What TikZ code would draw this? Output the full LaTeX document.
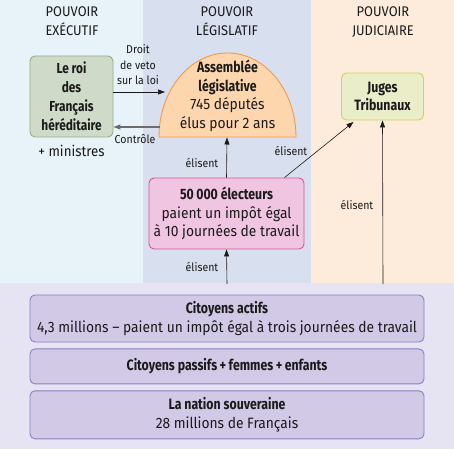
\documentclass[tikz,border=0pt]{standalone}
\usepackage{fontspec}
\setmainfont{Fira Sans}[FakeStretch=0.92]
\newfontfamily\hdfont{Fira Sans}[FakeStretch=0.82]
\usepackage{tikz}
\usetikzlibrary{arrows.meta, positioning}
\definecolor{execbg}{HTML}{E7F3F8}
\definecolor{legisbg}{HTML}{D8DFEE}
\definecolor{judibg}{HTML}{FDEBDB}
\definecolor{nationbg}{HTML}{E6E4F2}
\definecolor{roifill}{HTML}{CFDAC9}
\definecolor{roidraw}{HTML}{8FB087}
\definecolor{domefill}{HTML}{FDD6AE}
\definecolor{domedraw}{HTML}{F29A48}
\definecolor{jugefill}{HTML}{E9EEC8}
\definecolor{jugedraw}{HTML}{C9D652}
\definecolor{electfill}{HTML}{EFC5E1}
\definecolor{electdraw}{HTML}{D4569A}
\definecolor{citfill}{HTML}{D1C9E6}
\definecolor{citdraw}{HTML}{8A7FC2}
\definecolor{ink}{HTML}{1A1A1A}
\newcommand{\hd}[1]{{\hdfont\bfseries #1}}

\begin{document}
\begin{tikzpicture}[x=1pt, y=1pt,
  panel/.style={rectangle, rounded corners=5pt, draw, line width=0.9pt, align=center, inner sep=0pt, text=ink, font=\fontsize{15}{18.5}\selectfont},
  title/.style={align=center, text=ink, font=\fontsize{14}{19}\selectfont},
  lbl/.style={align=center, text=ink, font=\fontsize{11.5}{16}\selectfont},
  link/.style={-{Triangle[length=7pt,width=5pt]}, line width=0.6pt, draw=ink}
]
  \useasboundingbox (0,0) rectangle (454,-449);
  \fill[execbg] (0,0) rectangle (143,-283);
  \fill[legisbg] (143,0) rectangle (311,-283);
  \fill[judibg] (311,0) rectangle (454,-283);
  \fill[nationbg] (0,-283) rectangle (454,-449);

  \node[title] (exec) at (72,-21) {POUVOIR\\EXÉCUTIF};
  \node[title] (legis) at (227,-21) {POUVOIR\\LÉGISLATIF};
  \node[title] (judi) at (383,-22) {POUVOIR\\JUDICIAIRE};

  \node[panel, fill=roifill, draw=roidraw, minimum width=83pt, minimum height=81pt, font=\fontsize{14.5}{19}\selectfont] (roi) at (71.5,-96.5)
    {\hd{Le roi}\\\hd{des}\\\hd{Français}\\\hd{héréditaire}};
  \node[title, font=\fontsize{14.5}{19}\selectfont, below=4pt of roi] (ministres) {+ ministres};

  \fill[domefill] (159,-137) arc[start angle=180, end angle=0, x radius=68.5, y radius=84] -- cycle;
  \draw[domedraw, line width=0.9pt] (159,-137) arc[start angle=180, end angle=0, x radius=68.5, y radius=84] -- cycle;
  \node[panel, draw=none] (assemblee) at (227.5,-96)
    {\hd{Assemblée}\\\hd{législative}\\745 députés\\élus pour 2 ans};
  \coordinate (vetoend) at (165,-92);
  \coordinate (controlestart) at (159.5,-127);
  \coordinate (assbase) at (227,-137.5);

  \node[panel, fill=jugefill, draw=jugedraw, minimum width=82pt, minimum height=47pt] (juges) at (382.5,-96.5)
    {\hd{Juges}\\\hd{Tribunaux}};

  \node[panel, fill=electfill, draw=electdraw, minimum width=155pt, minimum height=71pt] (electeurs) at (226.5,-213.5)
    {\hd{50\,000 électeurs}\\paient un impôt égal\\à 10 journées de travail};

  \node[panel, fill=citfill, draw=citdraw, minimum width=394pt, minimum height=47pt] (actifs) at (227,-318.5)
    {\hd{Citoyens actifs}\\4,3 millions -- paient un impôt égal à trois journées de travail};
  \node[panel, fill=citfill, draw=citdraw, minimum width=394pt, minimum height=35pt, below=6pt of actifs] (passifs)
    {\hd{Citoyens passifs\,+\,femmes\,+\,enfants}};
  \node[panel, fill=citfill, draw=citdraw, minimum width=394pt, minimum height=48pt, below=6pt of passifs] (nation)
    {\hd{La nation souveraine}\\28 millions de Français};

  \coordinate (basemid) at (227,-284);
  \coordinate (baseright) at (383,-284);

  \draw[link] (roi.east |- vetoend) -- (vetoend);
  \draw[link, draw=gray!85!black, line width=1.2pt] (controlestart) -- (roi.east |- controlestart);
  \draw[link] (electeurs.north) -- (assbase);
  \draw[link] ([xshift=58pt]electeurs.north) -- ([xshift=-29pt,yshift=-1.5pt]juges.south);
  \draw[link] (baseright) -- (juges.south);
  \draw[link] (basemid) -- (electeurs.south);

  \node[lbl, font=\fontsize{11.5}{15.5}\selectfont] (veto) at (138,-65) {Droit\\de veto\\sur la loi};
  \node[lbl] (controle) at (135,-139.5) {Contrôle};
  \node[lbl] (elisent1) at (202,-162.5) {élisent};
  \node[lbl] (elisent2) at (291,-151) {élisent};
  \node[lbl] (elisent3) at (357,-204.5) {élisent};
  \node[lbl] (elisent4) at (202,-267) {élisent};
\end{tikzpicture}
\end{document}
